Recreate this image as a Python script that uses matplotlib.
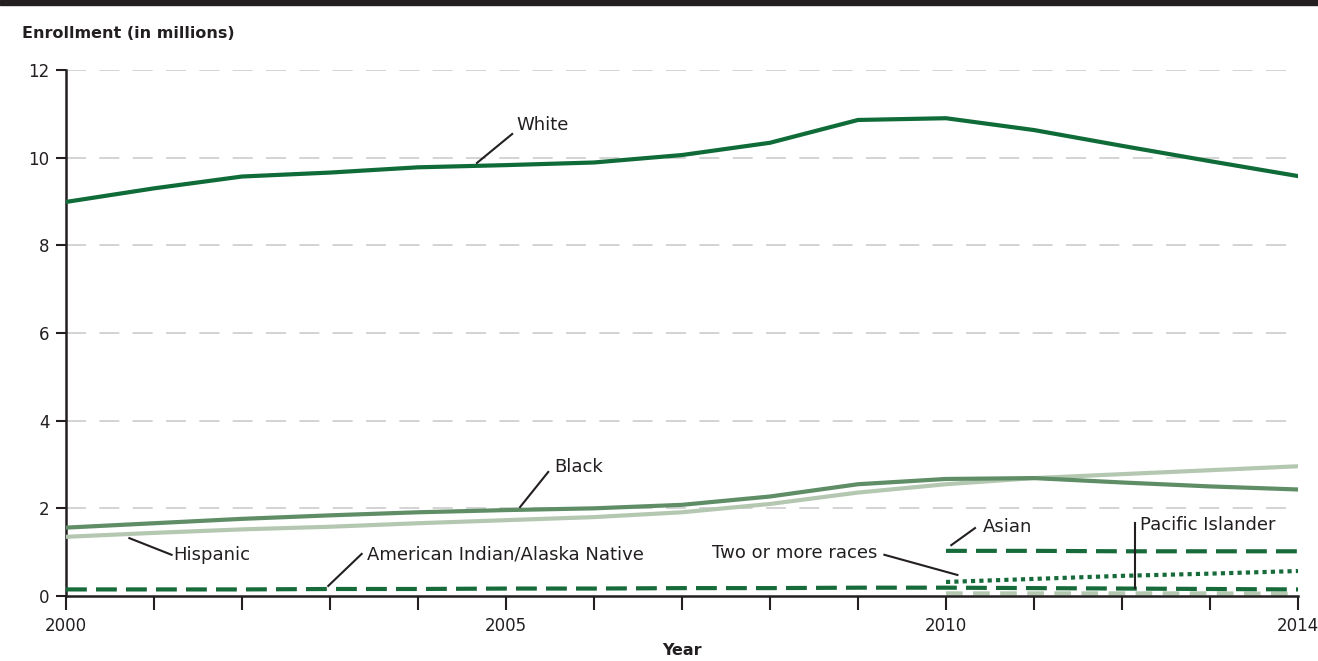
import numpy as np
import matplotlib.pyplot as plt
from matplotlib.patches import Rectangle

years = np.arange(2000, 2015)
years_2010 = np.arange(2010, 2015)

white = [8.99, 9.30, 9.57, 9.66, 9.78, 9.83, 9.89, 10.06, 10.34, 10.86, 10.90, 10.63, 10.27, 9.92, 9.58]
black = [1.56, 1.66, 1.76, 1.84, 1.91, 1.96, 2.00, 2.08, 2.27, 2.55, 2.67, 2.69, 2.59, 2.50, 2.43]
hispanic = [1.35, 1.44, 1.52, 1.58, 1.66, 1.73, 1.80, 1.91, 2.10, 2.36, 2.55, 2.69, 2.78, 2.87, 2.96]
am_indian = [0.15, 0.15, 0.15, 0.16, 0.16, 0.17, 0.17, 0.18, 0.18, 0.19, 0.19, 0.18, 0.17, 0.16, 0.15]
asian = [1.03, 1.03, 1.02, 1.02, 1.02]
two_or_more = [0.32, 0.39, 0.46, 0.51, 0.57]
pacific = [0.06, 0.06, 0.06, 0.06, 0.05]

y_ticks = [0, 2, 4, 6, 8, 10, 12]
x_labels = {2000: '2000', 2005: '2005', 2010: '2010', 2014: '2014'}

plt.rcParams['font.family'] = ['DejaVu Sans']
txt_col = '#231f20'
dark_green = '#0f6b38'
dash_green = '#176b3a'
mid_green = '#5e8d66'
light_green = '#b4c8b1'

fig = plt.figure(figsize=(13.18, 6.61), dpi=100)
ax = fig.add_axes([66/1318, 1 - 596/661, (1298-66)/1318, (596-70)/661])

# top rule
fig.add_artist(Rectangle((0, 1 - 5/661), 1, 5/661, transform=fig.transFigure,
                         color='#231f20', clip_on=False))

for yv in y_ticks[1:]:
    ax.axhline(yv, color='#cccccc', lw=1.2, dashes=(12, 8), zorder=0)

ax.plot(years, white, color=dark_green, lw=3, zorder=3)
ax.plot(years, hispanic, color=light_green, lw=3, zorder=3)
ax.plot(years, black, color=mid_green, lw=3, zorder=3)
ax.plot(years, am_indian, color=dash_green, lw=3, dashes=(5, 2.2), zorder=3)
ax.plot(years_2010, pacific, color=light_green, lw=3, dashes=(4, 2.5), zorder=2)
ax.plot(years_2010, asian, color=dash_green, lw=3, dashes=(5, 2.2), zorder=3)
ax.plot(years_2010, two_or_more, color=dash_green, lw=3, dashes=(1, 1), zorder=3)

ax.set_xlim(2000, 2014)
ax.set_ylim(0, 12)
ax.set_yticks(y_ticks)
ax.set_xticks(list(years))
ax.set_xticklabels([x_labels.get(y, '') for y in years])
ax.tick_params(axis='y', length=7, width=1.5, color=txt_col, labelsize=12,
               labelcolor=txt_col, pad=5)
ax.tick_params(axis='x', length=10, width=1.5, color=txt_col, labelsize=12,
               labelcolor=txt_col, pad=5)
for s in ['top', 'right']:
    ax.spines[s].set_visible(False)
for s in ['left', 'bottom']:
    ax.spines[s].set_linewidth(1.8)
    ax.spines[s].set_color(txt_col)

fig.text(22/1318, 1 - 33/661, 'Enrollment (in millions)', fontsize=11.5,
         fontweight='bold', color=txt_col, va='center', ha='left')
ax.set_xlabel('Year', fontsize=11.5, fontweight='bold', color=txt_col, labelpad=6)

# labels with leader lines
labels = [
    ('White', (2004.67, 9.88), (2005.07, 10.54), (2005.12, 10.74), 'left'),
    ('Black', (2005.16, 2.03), (2005.48, 2.83), (2005.55, 2.95), 'left'),
    ('Hispanic', (2000.72, 1.32), (2001.2, 0.94), (2001.22, 0.94), 'left'),
    ('American Indian/Alaska Native', (2002.98, 0.23), (2003.36, 0.96), (2003.42, 0.94), 'left'),
    ('Two or more races', (2010.13, 0.48), (2009.3, 0.94), (2009.22, 0.98), 'right'),
    ('Asian', (2010.06, 1.16), (2010.33, 1.55), (2010.42, 1.58), 'left'),
    ('Pacific Islander', (2012.15, 0.18), (2012.15, 1.67), (2012.2, 1.62), 'left'),
]
for name, p0, p1, pt, ha in labels:
    ax.plot([p0[0], p1[0]], [p0[1], p1[1]], color=txt_col, lw=1.5, zorder=4,
            clip_on=False)
    ax.text(pt[0], pt[1], name, fontsize=13, color=txt_col, ha=ha, va='center')

fig.savefig('out.png', dpi=100)
